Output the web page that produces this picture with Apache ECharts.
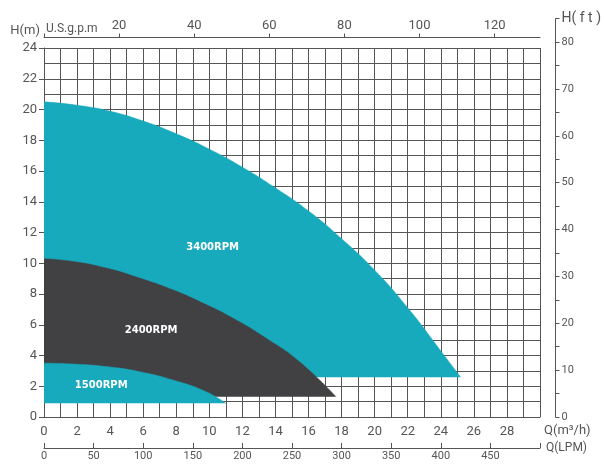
<!DOCTYPE html>
<html>
<head>
<meta charset="utf-8">
<script src="https://cdn.jsdelivr.net/npm/echarts@6/dist/echarts.min.js"></script>
<style>html,body{margin:0;padding:0;background:#fff}#c{width:604px;height:465px}</style>
</head>
<body>
<div id="c"></div>
<script>
// ---- data (Q in m3/h, H in m) ----
const q3400 = [0, 2, 4, 6, 8, 10, 12, 14, 16, 18, 20, 22, 24, 25.2];
const h3400 = [20.5, 20.28, 19.89, 19.25, 18.42, 17.42, 16.25, 14.9, 13.4, 11.6, 9.55, 7.1, 4.3, 2.59];
const q2400 = [0, 1.74, 3.76, 5.77, 7.79, 9.41, 11.43, 13.43, 15.45, 17.67];
const h2400 = [10.3, 10.12, 9.69, 9.04, 8.27, 7.51, 6.43, 5.13, 3.6, 1.31];
const q1500 = [0, 1.74, 3.76, 5.77, 7.79, 9.8, 11.0];
const h1500 = [3.5, 3.45, 3.28, 2.95, 2.41, 1.65, 0.89];
const seriesNames = ['3400RPM', '2400RPM', '1500RPM'];
const qTicks = [0, 2, 4, 6, 8, 10, 12, 14, 16, 18, 20, 22, 24, 26, 28];
const gpmTicks = [20, 40, 60, 80, 100, 120];
const lpmTicks = [0, 50, 100, 150, 200, 250, 300, 350, 400, 450];

const TEAL = '#17a9bc', DARK = '#414042', GRID = '#555', TXT = '#555';
const M3H_TO_GPM = 4.40287;
const QMAX = 30, HMAX = 24;

function pairs(qs, hs) { return qs.map((q, i) => [q, hs[i]]); }

function curve(name, qs, hs, color, lab) {
  return {
    name: name, type: 'line', xAxisIndex: 0, yAxisIndex: 0,
    data: pairs(qs, hs), smooth: 0.5,
    showSymbol: false, symbol: 'none', silent: true,
    lineStyle: { width: 0.5, color: color },
    areaStyle: { color: color, opacity: 1, origin: hs[hs.length - 1] },
    markPoint: {
      symbol: 'circle', symbolSize: 0, silent: true,
      label: { show: true, formatter: name, color: '#fff', fontSize: 10, fontWeight: 'bold',
               fontFamily: 'DejaVu Sans', position: 'inside' },
      data: [{ coord: lab }]
    }
  };
}

const chart = echarts.init(document.getElementById('c'), null, { renderer: 'canvas' });
chart.setOption({
  animation: false,
  backgroundColor: '#fff',
  textStyle: { fontFamily: 'Roboto' },
  grid: [
    { left: 44, right: 64, top: 48, bottom: 48 },
    { left: 500, right: 48.5, top: 18.7, bottom: 48 }
  ],
  xAxis: [
    { type: 'value', gridIndex: 0, position: 'bottom', min: 0, max: QMAX, interval: 2,
      axisLine: { show: true, onZero: false, lineStyle: { color: GRID, width: 1 } },
      axisTick: { show: false },
      axisLabel: { color: TXT, fontSize: 13, margin: 8, customValues: qTicks },
      splitLine: { show: true, lineStyle: { color: GRID, width: 1 } },
      minorTick: { show: false, splitNumber: 2 },
      minorSplitLine: { show: true, lineStyle: { color: GRID, width: 1 } },
      name: 'Q(m³/h)', nameLocation: 'end', nameGap: 4,
      nameTextStyle: { color: TXT, fontSize: 13, align: 'left', verticalAlign: 'top', padding: [7, 0, 0, 0] }
    },
    { type: 'value', gridIndex: 0, position: 'top', offset: 10.5, min: 0, max: QMAX * M3H_TO_GPM, interval: 20,
      axisLine: { show: true, onZero: false, lineStyle: { color: GRID, width: 1 } },
      axisTick: { show: true, length: 4, customValues: [0].concat(gpmTicks), lineStyle: { color: GRID } },
      axisLabel: { color: TXT, fontSize: 13, margin: 5, customValues: gpmTicks },
      splitLine: { show: false },
      name: 'U.S.g.p.m', nameLocation: 'start', nameGap: -2,
      nameTextStyle: { color: TXT, fontSize: 12, align: 'left', verticalAlign: 'bottom', padding: [0, 0, 3, 0] }
    },
    { type: 'value', gridIndex: 0, position: 'bottom', offset: 31, min: 0, max: QMAX * 1000 / 60, interval: 50,
      axisLine: { show: true, onZero: false, lineStyle: { color: GRID, width: 1 } },
      axisTick: { show: true, inside: true, length: 5, lineStyle: { color: GRID } },
      axisLabel: { color: TXT, fontSize: 11, margin: 3, customValues: lpmTicks },
      splitLine: { show: false },
      name: 'Q(LPM)', nameLocation: 'end', nameGap: 6,
      nameTextStyle: { color: TXT, fontSize: 12, align: 'left', verticalAlign: 'middle', padding: [4, 0, 0, 0] }
    },
    { type: 'value', gridIndex: 1, show: false, min: 0, max: 1 }
  ],
  yAxis: [
    { type: 'value', gridIndex: 0, position: 'left', min: 0, max: HMAX, interval: 2,
      axisLine: { show: true, onZero: false, lineStyle: { color: GRID, width: 1 } },
      axisTick: { show: true, length: 5, lineStyle: { color: GRID } },
      axisLabel: { color: TXT, fontSize: 13, margin: 7 },
      splitLine: { show: true, lineStyle: { color: GRID, width: 1 } },
      minorTick: { show: false, splitNumber: 2 },
      minorSplitLine: { show: true, lineStyle: { color: GRID, width: 1 } },
      name: 'H(m)', nameLocation: 'end', nameGap: 11,
      nameTextStyle: { color: TXT, fontSize: 13, align: 'right', padding: [0, 4, 0, 0] }
    },
    { type: 'value', gridIndex: 1, position: 'right', min: 0, max: 85, interval: 5,
      axisLine: { show: true, onZero: false, lineStyle: { color: GRID, width: 1 } },
      axisTick: { show: true, length: 4, lineStyle: { color: GRID } },
      axisLabel: { color: TXT, fontSize: 11, margin: 6,
        formatter: function (v) { if (v === 85) return '{n|H( f t )}'; return v % 10 === 0 ? String(v) : ''; },
        rich: { n: { fontSize: 14, color: TXT, fontFamily: 'Roboto' } } },
      splitLine: { show: false }
    }
  ],
  series: [
    curve(seriesNames[0], q3400, h3400, TEAL, [10.2, 11.06]),
    curve(seriesNames[1], q2400, h2400, DARK, [6.48, 5.6]),
    curve(seriesNames[2], q1500, h1500, TEAL, [3.46, 2.04])
  ]
});
</script>
</body>
</html>
